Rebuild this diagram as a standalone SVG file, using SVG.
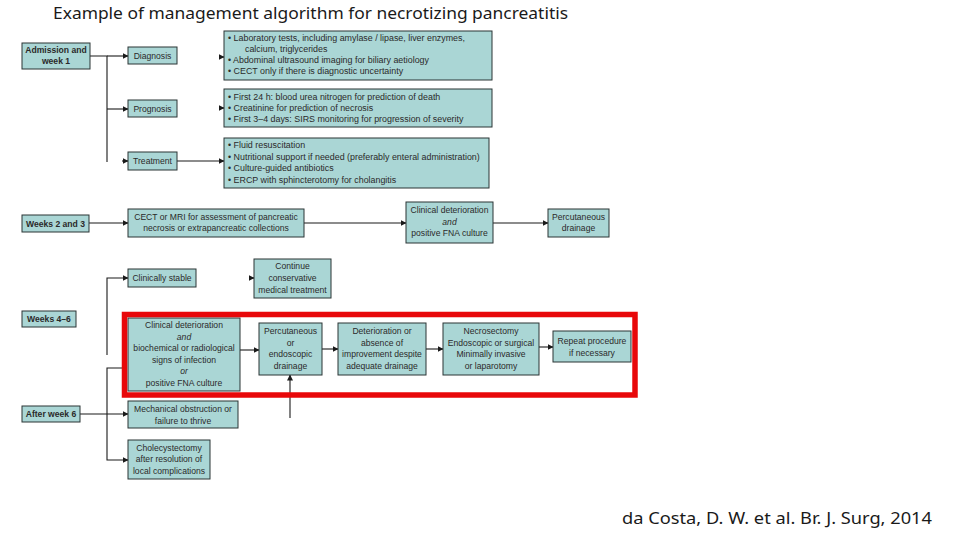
<svg xmlns="http://www.w3.org/2000/svg" width="960" height="540" viewBox="0 0 960 540">
<style>
.box{fill:#aad6d5;stroke:#2b3535;stroke-width:1}
.t{font-family:"Liberation Sans",Arial,sans-serif;font-size:8.6px;fill:#2a2a2a}
.d{font-size:8.9px}
.c{text-anchor:middle}
.b{font-weight:bold}
.i{font-style:italic}
.ln{fill:none;stroke:#1a1a1a;stroke-width:1.1}
.hdr{font-family:"Noto Sans","Open Sans",sans-serif;fill:#1a1a1a}
</style>
<defs>
<marker id="ah" markerWidth="6" markerHeight="6" refX="5.5" refY="3" orient="auto" markerUnits="userSpaceOnUse">
<path d="M0,0 L6,3 L0,6 Z" fill="#1a1a1a"/>
</marker>
</defs>
<rect width="960" height="540" fill="#fff"/>
<text class="hdr" x="53" y="19" font-size="16.5" textLength="515" lengthAdjust="spacingAndGlyphs">Example of management algorithm for necrotizing pancreatitis</text>

<g id="connectors">
<path class="ln" d="M90,56 H107 V162"/>
<path class="ln" d="M107,56 H128" marker-end="url(#ah)"/>
<path class="ln" d="M107,109 H128" marker-end="url(#ah)"/>
<path class="ln" d="M122,161 H128" marker-end="url(#ah)"/>
<path class="ln" d="M219,57 H224" marker-end="url(#ah)"/>
<path class="ln" d="M219,108 H224" marker-end="url(#ah)"/>
<path class="ln" d="M177,161 H224" marker-end="url(#ah)"/>
<path class="ln" d="M89,223 H128" marker-end="url(#ah)"/>
<path class="ln" d="M304,223 H406" marker-end="url(#ah)"/>
<path class="ln" d="M493,223 H548" marker-end="url(#ah)"/>
<path class="ln" d="M107,355 V278 H128" marker-end="url(#ah)"/>
<path class="ln" d="M249,278 H254" marker-end="url(#ah)"/>
<path class="ln" d="M122,368 H107 V460 H128" marker-end="url(#ah)"/>
<path class="ln" d="M80,414 H128" marker-end="url(#ah)"/>
<path class="ln" d="M240,350 H259" marker-end="url(#ah)"/>
<path class="ln" d="M322,349 H338" marker-end="url(#ah)"/>
<path class="ln" d="M426,349 H443" marker-end="url(#ah)"/>
<path class="ln" d="M539,347 H553" marker-end="url(#ah)"/>
<path class="ln" d="M290,418 V375" marker-end="url(#ah)"/>
</g>

<g id="admission"><rect class="box" x="22" y="43" width="68" height="26"/>
<text class="t c b" x="56" y="53">Admission and</text><text class="t c b" x="56" y="64">week 1</text></g>

<g id="diagnosis"><rect class="box" x="128" y="47" width="49" height="17"/>
<text class="t c" x="152.5" y="58.5">Diagnosis</text></g>
<g id="diagnosis-detail"><rect class="box" x="224" y="31" width="268" height="49"/>
<text class="t d" x="228" y="41">• Laboratory tests, including amylase / lipase, liver enzymes,</text>
<text class="t d" x="245" y="51.5">calcium, triglycerides</text>
<text class="t d" x="228" y="63">• Abdominal ultrasound imaging for biliary aetiology</text>
<text class="t d" x="228" y="74">• CECT only if there is diagnostic uncertainty</text></g>

<g id="prognosis"><rect class="box" x="128" y="100" width="49" height="17"/>
<text class="t c" x="152.5" y="111.5">Prognosis</text></g>
<g id="prognosis-detail"><rect class="box" x="224" y="89" width="268" height="38"/>
<text class="t d" x="228" y="99.5">• First 24 h: blood urea nitrogen for prediction of death</text>
<text class="t d" x="228" y="110.5">• Creatinine for prediction of necrosis</text>
<text class="t d" x="228" y="121.5">• First 3–4 days: SIRS monitoring for progression of severity</text></g>

<g id="treatment"><rect class="box" x="128" y="152" width="49" height="18"/>
<text class="t c" x="152.5" y="164">Treatment</text></g>
<g id="treatment-detail"><rect class="box" x="224" y="138" width="265" height="50"/>
<text class="t d" x="228" y="148">• Fluid resuscitation</text>
<text class="t d" x="228" y="159.5">• Nutritional support if needed (preferably enteral administration)</text>
<text class="t d" x="228" y="171">• Culture-guided antibiotics</text>
<text class="t d" x="228" y="182.5">• ERCP with sphincterotomy for cholangitis</text></g>

<g id="weeks23"><rect class="box" x="22" y="215" width="67" height="17"/>
<text class="t c b" x="55.5" y="226.5">Weeks 2 and 3</text></g>
<g id="cect"><rect class="box" x="128" y="209" width="176" height="28"/>
<text class="t c" x="216" y="220">CECT or MRI for assessment of pancreatic</text>
<text class="t c" x="216" y="231">necrosis or extrapancreatic collections</text></g>
<g id="clin-det-fna"><rect class="box" x="406" y="202" width="87" height="41"/>
<text class="t c" x="449.5" y="213">Clinical deterioration</text>
<text class="t c i" x="449.5" y="224.5">and</text>
<text class="t c" x="449.5" y="236">positive FNA culture</text></g>
<g id="perc-drainage"><rect class="box" x="548" y="209" width="61" height="28"/>
<text class="t c" x="578.5" y="220">Percutaneous</text>
<text class="t c" x="578.5" y="231">drainage</text></g>

<g id="clin-stable"><rect class="box" x="128" y="269" width="68" height="18"/>
<text class="t c" x="162" y="281">Clinically stable</text></g>
<g id="continue"><rect class="box" x="254" y="259" width="77" height="39"/>
<text class="t c" x="292.5" y="269">Continue</text>
<text class="t c" x="292.5" y="281">conservative</text>
<text class="t c" x="292.5" y="293">medical treatment</text></g>

<g id="weeks46"><rect class="box" x="22" y="311" width="54" height="16"/>
<text class="t c b" x="49" y="322">Weeks 4–6</text></g>

<g id="clin-det-infection"><rect class="box" x="128" y="318" width="112" height="73"/>
<text class="t c" x="184" y="328">Clinical deterioration</text>
<text class="t c i" x="184" y="339.5">and</text>
<text class="t c" x="184" y="351">biochemical or radiological</text>
<text class="t c" x="184" y="362.5">signs of infection</text>
<text class="t c i" x="184" y="374">or</text>
<text class="t c" x="184" y="385.5">positive FNA culture</text></g>
<g id="perc-endo"><rect class="box" x="259" y="323" width="63" height="52"/>
<text class="t c" x="290.5" y="334">Percutaneous</text>
<text class="t c" x="290.5" y="345.5">or</text>
<text class="t c" x="290.5" y="357">endoscopic</text>
<text class="t c" x="290.5" y="368.5">drainage</text></g>
<g id="deterioration"><rect class="box" x="338" y="323" width="88" height="52"/>
<text class="t c" x="382" y="334">Deterioration or</text>
<text class="t c" x="382" y="345.5">absence of</text>
<text class="t c" x="382" y="357">improvement despite</text>
<text class="t c" x="382" y="368.5">adequate drainage</text></g>
<g id="necrosectomy"><rect class="box" x="443" y="323" width="96" height="52"/>
<text class="t c" x="491" y="334">Necrosectomy</text>
<text class="t c" x="491" y="345.5">Endoscopic or surgical</text>
<text class="t c" x="491" y="357">Minimally invasive</text>
<text class="t c" x="491" y="368.5">or laparotomy</text></g>
<g id="repeat"><rect class="box" x="553" y="331" width="78" height="31"/>
<text class="t c" x="592" y="344">Repeat procedure</text>
<text class="t c" x="592" y="355.5">if necessary</text></g>

<g id="highlight"><rect x="124.5" y="314.5" width="510.5" height="80.5" fill="none" stroke="#e8080a" stroke-width="5.5"/></g>

<g id="after6"><rect class="box" x="22" y="406" width="58" height="16"/>
<text class="t c b" x="51" y="417">After week 6</text></g>
<g id="mechanical"><rect class="box" x="128" y="401" width="110" height="27"/>
<text class="t c" x="183" y="412">Mechanical obstruction or</text>
<text class="t c" x="183" y="423.5">failure to thrive</text></g>
<g id="cholecystectomy"><rect class="box" x="128" y="440" width="82" height="39"/>
<text class="t c" x="169" y="450.5">Cholecystectomy</text>
<text class="t c" x="169" y="462">after resolution of</text>
<text class="t c" x="169" y="473.5">local complications</text></g>

<text class="hdr" x="622" y="524" font-size="16.5" textLength="310" lengthAdjust="spacingAndGlyphs">da Costa, D. W. et al. Br. J. Surg, 2014</text>
</svg>
